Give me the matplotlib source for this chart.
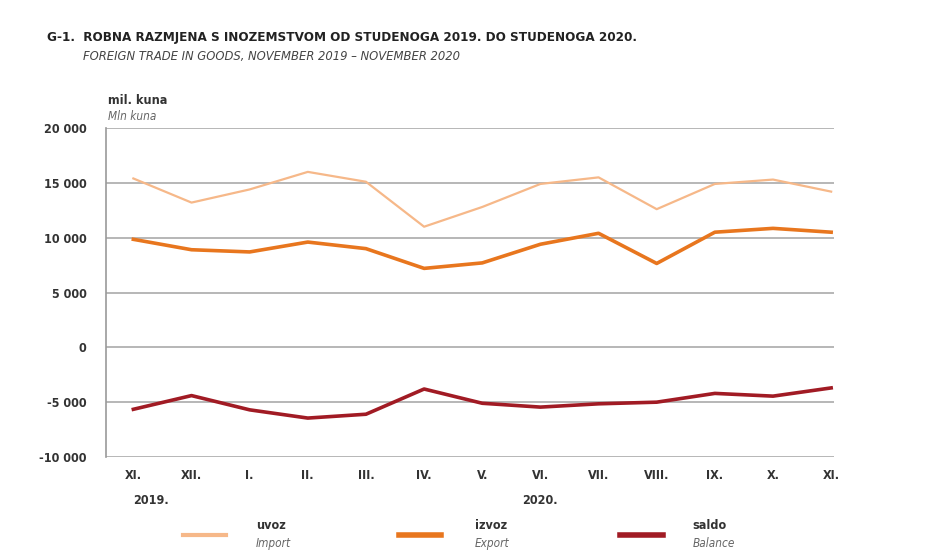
import matplotlib.pyplot as plt
from matplotlib.lines import Line2D

months = ['XI.', 'XII.', 'I.', 'II.', 'III.', 'IV.', 'V.', 'VI.', 'VII.', 'VIII.', 'IX.', 'X.', 'XI.']
uvoz = [15400, 13200, 14400, 16000, 15100, 11000, 12800, 14900, 15500, 12600, 14900, 15300, 14200]
izvoz = [9850, 8900, 8700, 9600, 9000, 7200, 7700, 9400, 10400, 7650, 10500, 10850, 10500]
saldo = [-5650, -4400, -5700, -6450, -6100, -3800, -5100, -5450, -5150, -5000, -4200, -4450, -3700]
yticks = [-10000, -5000, 0, 5000, 10000, 15000, 20000]
years = [(0.3, '2019.'), (7.0, '2020.')]

c_uvoz = '#F6B889'
c_izvoz = '#E8761E'
c_saldo = '#A11B24'
fam = ['DejaVu Sans']
st = 'condensed'
txt = '#333333'
grey = '#666666'

fig = plt.figure(figsize=(9.4, 5.53), dpi=100)
ax = fig.add_axes([0.1128, 0.1736, 0.7745, 0.5949])

x = range(len(months))
ax.plot(x, uvoz, color=c_uvoz, lw=1.6)
ax.plot(x, izvoz, color=c_izvoz, lw=2.6)
ax.plot(x, saldo, color=c_saldo, lw=2.6)

ax.set_xlim(-0.47, 12.05)
ax.set_ylim(-10000, 20000)
ax.set_yticks(yticks)
ax.set_yticklabels([f'{v:,}'.replace(',', ' ') for v in yticks],
                   family=fam, stretch=st, fontweight='bold', fontsize=9, color=txt)
ax.set_xticks(list(x))
ax.set_xticklabels(months, family=fam, stretch=st, fontweight='bold', fontsize=9, color=txt)
ax.tick_params(length=0, pad=14)
ax.tick_params(axis='x', pad=9)
ax.grid(axis='y', color='#aaaaaa', lw=1.2)
ax.set_axisbelow(True)
for s in ['top', 'right', 'bottom']:
    ax.spines[s].set_visible(False)
ax.spines['left'].set_color('#999999')
ax.spines['left'].set_linewidth(1.2)

for xi, lab in years:
    ax.text(xi, -14000, lab, family=fam, stretch=st, fontweight='bold', fontsize=9,
            color=txt, ha='center', va='center')

fig.text(0.05, 0.933, 'G-1.  ROBNA RAZMJENA S INOZEMSTVOM OD STUDENOGA 2019. DO STUDENOGA 2020.',
         family=fam, stretch=st, fontweight='bold', fontsize=9.6, color='#222222', va='center')
fig.text(0.088, 0.898, 'FOREIGN TRADE IN GOODS, NOVEMBER 2019 \u2013 NOVEMBER 2020',
         family=fam, stretch=st, style='italic', fontsize=9.3, color='#444444', va='center')
fig.text(0.115, 0.819, 'mil. kuna', family=fam, stretch=st, fontweight='bold', fontsize=9,
         color=txt, va='center')
fig.text(0.115, 0.79, 'Mln kuna', family=fam, stretch=st, style='italic', fontsize=8.5,
         color=grey, va='center')

legend_items = [(0.195, 0.272, c_uvoz, 1.6, 'uvoz', 'Import'),
                (0.424, 0.505, c_izvoz, 2.6, 'izvoz', 'Export'),
                (0.66, 0.737, c_saldo, 2.6, 'saldo', 'Balance')]
for x0, tx, col, lw, a, b in legend_items:
    fig.add_artist(Line2D([x0, x0 + 0.045], [0.033, 0.033], color=col, lw=lw + 1.4,
                          transform=fig.transFigure))
    fig.text(tx, 0.05, a, family=fam, stretch=st, fontweight='bold', fontsize=9, color=txt, va='center')
    fig.text(tx, 0.018, b, family=fam, stretch=st, style='italic', fontsize=8.5, color=grey, va='center')

fig.savefig('out.png', dpi=100, facecolor='white')
